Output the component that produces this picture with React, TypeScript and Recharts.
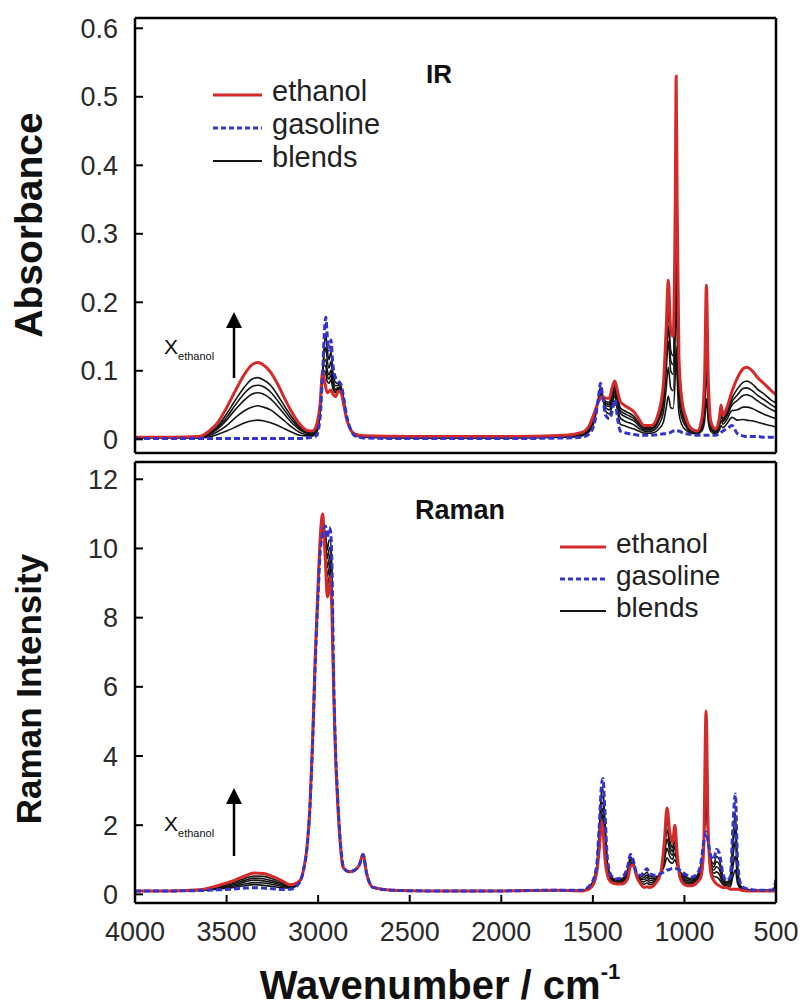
import React from 'react';
import { LineChart, Line, XAxis, YAxis } from 'recharts';

const RED = '#d42a2a';
const BLUE = '#3434c8';
const BLACK = '#151515';
const FONT = 'Arial, "Liberation Sans", sans-serif';

const X_TICKS = [4000, 3500, 3000, 2500, 2000, 1500, 1000, 500];
const IR_TICKS = [0, 0.1, 0.2, 0.3, 0.4, 0.5, 0.6];
const RAMAN_TICKS = [0, 2, 4, 6, 8, 10, 12];

// IR absorbance, wavenumber grid (cm-1)
const IR_WN = [
  4000, 3800, 3650, 3600, 3550, 3500, 3450, 3400, 3360, 3330,
  3300, 3260, 3220, 3180, 3140, 3100, 3060, 3030, 3010, 2990,
  2975, 2965, 2958, 2950, 2940, 2930, 2920, 2905, 2890, 2875,
  2860, 2845, 2830, 2800, 2750, 2500, 2000, 1650, 1560, 1520,
  1490, 1470, 1458, 1445, 1430, 1410, 1395, 1380, 1365, 1350,
  1330, 1300, 1275, 1250, 1220, 1180, 1140, 1115, 1100, 1088,
  1075, 1062, 1050, 1045, 1040, 1030, 1015, 990, 960, 930,
  905, 890, 880, 870, 855, 830, 810, 800, 790, 770,
  740, 710, 680, 660, 630, 600, 560, 530, 500,
];
const IR_ETHANOL = [
  0.003, 0.003, 0.004, 0.011, 0.024, 0.046, 0.072, 0.096, 0.109, 0.112,
  0.109, 0.098, 0.080, 0.058, 0.038, 0.022, 0.013, 0.012, 0.020, 0.050,
  0.100, 0.085, 0.075, 0.068, 0.070, 0.072, 0.066, 0.062, 0.070, 0.068,
  0.050, 0.030, 0.018, 0.008, 0.005, 0.004, 0.004, 0.006, 0.010, 0.020,
  0.040, 0.055, 0.060, 0.062, 0.060, 0.060, 0.075, 0.085, 0.070, 0.055,
  0.050, 0.045, 0.040, 0.030, 0.020, 0.020, 0.040, 0.080, 0.160, 0.232,
  0.160, 0.150, 0.350, 0.530, 0.350, 0.120, 0.060, 0.030, 0.015, 0.012,
  0.030, 0.090, 0.225, 0.090, 0.025, 0.015, 0.030, 0.050, 0.035, 0.045,
  0.070, 0.090, 0.103, 0.105, 0.100, 0.090, 0.080, 0.072, 0.065,
];
const IR_GASOLINE = [
  0.001, 0.001, 0.001, 0.001, 0.001, 0.001, 0.001, 0.001, 0.001, 0.001,
  0.001, 0.001, 0.001, 0.001, 0.001, 0.001, 0.002, 0.003, 0.005, 0.030,
  0.100, 0.160, 0.178, 0.150, 0.130, 0.145, 0.110, 0.090, 0.085, 0.080,
  0.060, 0.035, 0.020, 0.005, 0.002, 0.001, 0.001, 0.002, 0.003, 0.008,
  0.025, 0.060, 0.082, 0.060, 0.035, 0.030, 0.040, 0.058, 0.030, 0.012,
  0.010, 0.008, 0.007, 0.006, 0.006, 0.006, 0.007, 0.008, 0.008, 0.009,
  0.010, 0.012, 0.012, 0.011, 0.012, 0.012, 0.010, 0.008, 0.007, 0.006,
  0.006, 0.006, 0.006, 0.006, 0.006, 0.006, 0.008, 0.010, 0.012, 0.015,
  0.020, 0.008, 0.005, 0.004, 0.004, 0.004, 0.003, 0.003, 0.003,
];
const IR_BLEND_1 = [
  0.003, 0.003, 0.003, 0.009, 0.019, 0.037, 0.058, 0.077, 0.088, 0.090,
  0.087, 0.079, 0.064, 0.047, 0.031, 0.018, 0.011, 0.010, 0.017, 0.046,
  0.100, 0.100, 0.096, 0.084, 0.082, 0.087, 0.075, 0.068, 0.073, 0.070,
  0.052, 0.031, 0.018, 0.007, 0.004, 0.003, 0.003, 0.005, 0.009, 0.018,
  0.037, 0.056, 0.064, 0.062, 0.055, 0.054, 0.068, 0.080, 0.062, 0.046,
  0.042, 0.038, 0.033, 0.025, 0.017, 0.017, 0.033, 0.066, 0.130, 0.187,
  0.130, 0.122, 0.282, 0.426, 0.282, 0.098, 0.050, 0.026, 0.013, 0.011,
  0.025, 0.073, 0.181, 0.073, 0.021, 0.013, 0.026, 0.042, 0.030, 0.039,
  0.060, 0.074, 0.083, 0.085, 0.081, 0.073, 0.065, 0.058, 0.053,
];
const IR_BLEND_2 = [
  0.002, 0.002, 0.003, 0.008, 0.017, 0.032, 0.051, 0.068, 0.077, 0.079,
  0.077, 0.069, 0.056, 0.041, 0.027, 0.016, 0.010, 0.009, 0.016, 0.044,
  0.100, 0.108, 0.106, 0.093, 0.088, 0.094, 0.079, 0.070, 0.075, 0.072,
  0.053, 0.032, 0.019, 0.007, 0.004, 0.003, 0.003, 0.005, 0.008, 0.016,
  0.036, 0.057, 0.067, 0.061, 0.053, 0.051, 0.065, 0.077, 0.058, 0.042,
  0.038, 0.034, 0.030, 0.023, 0.016, 0.016, 0.030, 0.058, 0.114, 0.165,
  0.115, 0.109, 0.249, 0.374, 0.249, 0.088, 0.045, 0.023, 0.013, 0.010,
  0.023, 0.065, 0.159, 0.065, 0.019, 0.012, 0.023, 0.038, 0.028, 0.036,
  0.055, 0.065, 0.074, 0.075, 0.071, 0.064, 0.057, 0.051, 0.046,
];
const IR_BLEND_3 = [
  0.002, 0.002, 0.003, 0.007, 0.015, 0.028, 0.044, 0.058, 0.066, 0.068,
  0.066, 0.059, 0.048, 0.035, 0.023, 0.014, 0.009, 0.008, 0.014, 0.042,
  0.100, 0.115, 0.116, 0.101, 0.094, 0.101, 0.084, 0.073, 0.076, 0.073,
  0.054, 0.032, 0.019, 0.007, 0.004, 0.003, 0.003, 0.004, 0.007, 0.015,
  0.034, 0.057, 0.069, 0.061, 0.050, 0.048, 0.061, 0.074, 0.054, 0.038,
  0.034, 0.030, 0.027, 0.020, 0.014, 0.014, 0.027, 0.051, 0.099, 0.143,
  0.100, 0.095, 0.215, 0.322, 0.215, 0.077, 0.040, 0.021, 0.012, 0.010,
  0.020, 0.056, 0.137, 0.056, 0.017, 0.011, 0.021, 0.034, 0.026, 0.033,
  0.050, 0.057, 0.064, 0.065, 0.062, 0.056, 0.049, 0.044, 0.040,
];
const IR_BLEND_4 = [
  0.002, 0.002, 0.002, 0.005, 0.011, 0.020, 0.032, 0.042, 0.047, 0.049,
  0.047, 0.043, 0.035, 0.026, 0.017, 0.010, 0.007, 0.007, 0.012, 0.039,
  0.100, 0.128, 0.134, 0.115, 0.104, 0.114, 0.091, 0.078, 0.079, 0.075,
  0.056, 0.033, 0.019, 0.006, 0.003, 0.002, 0.002, 0.004, 0.006, 0.013,
  0.032, 0.058, 0.073, 0.061, 0.046, 0.043, 0.055, 0.070, 0.047, 0.031,
  0.027, 0.024, 0.021, 0.016, 0.012, 0.012, 0.021, 0.039, 0.073, 0.105,
  0.075, 0.071, 0.157, 0.234, 0.157, 0.058, 0.032, 0.018, 0.010, 0.009,
  0.016, 0.042, 0.100, 0.042, 0.014, 0.010, 0.018, 0.027, 0.022, 0.028,
  0.042, 0.043, 0.047, 0.047, 0.045, 0.041, 0.036, 0.033, 0.030,
];
const IR_BLEND_5 = [
  0.002, 0.002, 0.002, 0.003, 0.007, 0.012, 0.018, 0.024, 0.027, 0.028,
  0.027, 0.024, 0.020, 0.015, 0.010, 0.006, 0.005, 0.005, 0.009, 0.035,
  0.100, 0.142, 0.153, 0.130, 0.116, 0.128, 0.099, 0.083, 0.081, 0.077,
  0.058, 0.034, 0.020, 0.006, 0.003, 0.002, 0.002, 0.003, 0.005, 0.011,
  0.029, 0.059, 0.077, 0.061, 0.041, 0.037, 0.048, 0.065, 0.040, 0.022,
  0.020, 0.017, 0.015, 0.012, 0.009, 0.009, 0.015, 0.025, 0.045, 0.063,
  0.046, 0.045, 0.093, 0.136, 0.093, 0.038, 0.022, 0.013, 0.009, 0.008,
  0.012, 0.026, 0.059, 0.026, 0.011, 0.008, 0.013, 0.020, 0.017, 0.022,
  0.032, 0.028, 0.029, 0.028, 0.027, 0.025, 0.022, 0.020, 0.018,
];

// Raman intensity, wavenumber grid (cm-1)
const RAMAN_WN = [
  4000, 3800, 3650, 3550, 3450, 3400, 3350, 3300, 3250, 3200,
  3150, 3100, 3080, 3060, 3045, 3030, 3015, 3000, 2990, 2980,
  2975, 2968, 2960, 2950, 2940, 2932, 2925, 2915, 2905, 2895,
  2885, 2875, 2865, 2850, 2830, 2800, 2775, 2755, 2735, 2700,
  2600, 2400, 2000, 1700, 1560, 1510, 1480, 1465, 1452, 1445,
  1435, 1420, 1400, 1370, 1340, 1310, 1295, 1280, 1260, 1240,
  1220, 1205, 1190, 1160, 1130, 1110, 1095, 1080, 1065, 1052,
  1040, 1025, 1005, 985, 960, 930, 910, 895, 882, 870,
  855, 840, 825, 810, 790, 770, 750, 735, 722, 710,
  690, 650, 600, 550, 520, 505, 500,
];
const RAMAN_ETHANOL = [
  0.10, 0.10, 0.13, 0.25, 0.42, 0.53, 0.62, 0.60, 0.52, 0.40,
  0.28, 0.40, 0.70, 1.40, 2.50, 4.50, 7.00, 9.00, 10.2, 10.9,
  11.0, 10.4, 9.60, 8.60, 8.80, 9.20, 8.20, 5.80, 4.00, 2.80,
  1.90, 1.20, 0.80, 0.70, 0.65, 0.70, 0.85, 1.15, 0.60, 0.20,
  0.12, 0.10, 0.10, 0.12, 0.10, 0.20, 0.60, 1.30, 2.10, 1.90,
  1.10, 0.55, 0.35, 0.30, 0.30, 0.45, 0.80, 0.85, 0.50, 0.30,
  0.20, 0.22, 0.20, 0.30, 0.60, 1.50, 2.50, 1.80, 1.50, 2.00,
  1.20, 0.50, 0.30, 0.25, 0.25, 0.35, 0.50, 1.30, 5.30, 1.80,
  0.60, 0.40, 0.30, 0.25, 0.20, 0.20, 0.15, 0.15, 0.15, 0.15,
  0.12, 0.10, 0.10, 0.10, 0.10, 0.10, 0.10,
];
const RAMAN_GASOLINE = [
  0.10, 0.10, 0.11, 0.13, 0.16, 0.18, 0.19, 0.18, 0.16, 0.14,
  0.15, 0.35, 0.70, 1.40, 2.50, 4.40, 6.80, 8.70, 9.80, 10.3,
  10.4, 10.6, 10.65, 10.3, 10.6, 10.5, 9.60, 6.20, 4.20, 3.00,
  2.00, 1.30, 0.85, 0.70, 0.65, 0.70, 0.85, 1.15, 0.60, 0.20,
  0.12, 0.10, 0.10, 0.12, 0.12, 0.30, 0.80, 2.00, 3.20, 3.35,
  2.50, 1.00, 0.55, 0.45, 0.50, 0.80, 1.15, 1.00, 0.60, 0.55,
  0.65, 0.75, 0.60, 0.55, 0.60, 0.65, 0.70, 0.72, 0.75, 0.75,
  0.74, 0.70, 0.62, 0.55, 0.50, 0.60, 0.90, 1.50, 1.80, 1.50,
  1.10, 1.00, 1.30, 1.20, 0.60, 0.40, 0.50, 2.00, 2.90, 1.00,
  0.25, 0.15, 0.12, 0.12, 0.13, 0.30, 0.50,
];
const RAMAN_BLEND_1 = [
  0.10, 0.10, 0.13, 0.23, 0.37, 0.46, 0.53, 0.52, 0.45, 0.35,
  0.25, 0.39, 0.70, 1.40, 2.50, 4.48, 6.96, 8.94, 10.1, 10.8,
  10.9, 10.4, 9.81, 8.94, 9.16, 9.46, 8.48, 5.88, 4.04, 2.84,
  1.92, 1.22, 0.81, 0.70, 0.65, 0.70, 0.85, 1.15, 0.60, 0.20,
  0.12, 0.10, 0.10, 0.12, 0.10, 0.22, 0.64, 1.44, 2.32, 2.19,
  1.38, 0.64, 0.39, 0.33, 0.34, 0.52, 0.87, 0.88, 0.52, 0.35,
  0.29, 0.33, 0.28, 0.35, 0.60, 1.33, 2.14, 1.58, 1.35, 1.75,
  1.11, 0.54, 0.36, 0.31, 0.30, 0.40, 0.58, 1.34, 4.60, 1.74,
  0.70, 0.52, 0.50, 0.44, 0.28, 0.24, 0.22, 0.52, 0.70, 0.32,
  0.15, 0.11, 0.10, 0.10, 0.11, 0.14, 0.18,
];
const RAMAN_BLEND_2 = [
  0.10, 0.10, 0.12, 0.21, 0.33, 0.41, 0.47, 0.45, 0.39, 0.31,
  0.23, 0.38, 0.70, 1.40, 2.50, 4.47, 6.93, 8.90, 10.1, 10.7,
  10.8, 10.5, 9.97, 9.20, 9.43, 9.66, 8.69, 5.94, 4.07, 2.87,
  1.94, 1.24, 0.82, 0.70, 0.65, 0.70, 0.85, 1.15, 0.60, 0.20,
  0.12, 0.10, 0.10, 0.12, 0.11, 0.24, 0.67, 1.55, 2.49, 2.41,
  1.59, 0.71, 0.42, 0.35, 0.37, 0.57, 0.92, 0.90, 0.54, 0.39,
  0.36, 0.41, 0.34, 0.39, 0.60, 1.20, 1.87, 1.42, 1.24, 1.56,
  1.04, 0.57, 0.41, 0.36, 0.34, 0.44, 0.64, 1.37, 4.08, 1.70,
  0.78, 0.61, 0.65, 0.58, 0.34, 0.27, 0.27, 0.80, 1.11, 0.45,
  0.17, 0.12, 0.11, 0.11, 0.11, 0.17, 0.24,
];
const RAMAN_BLEND_3 = [
  0.10, 0.10, 0.12, 0.19, 0.29, 0.36, 0.41, 0.39, 0.34, 0.27,
  0.22, 0.38, 0.70, 1.40, 2.50, 4.45, 6.90, 8.85, 10.0, 10.6,
  10.7, 10.5, 10.13, 9.45, 9.70, 9.85, 8.90, 6.00, 4.10, 2.90,
  1.95, 1.25, 0.83, 0.70, 0.65, 0.70, 0.85, 1.15, 0.60, 0.20,
  0.12, 0.10, 0.10, 0.12, 0.11, 0.25, 0.70, 1.65, 2.65, 2.63,
  1.80, 0.78, 0.45, 0.38, 0.40, 0.63, 0.98, 0.93, 0.55, 0.43,
  0.43, 0.49, 0.40, 0.43, 0.60, 1.08, 1.60, 1.26, 1.13, 1.38,
  0.97, 0.60, 0.46, 0.40, 0.38, 0.48, 0.70, 1.40, 3.55, 1.65,
  0.85, 0.70, 0.80, 0.73, 0.40, 0.30, 0.33, 1.08, 1.53, 0.58,
  0.19, 0.13, 0.11, 0.11, 0.12, 0.20, 0.30,
];
const RAMAN_BLEND_4 = [
  0.10, 0.10, 0.12, 0.17, 0.25, 0.30, 0.34, 0.33, 0.29, 0.23,
  0.20, 0.37, 0.70, 1.40, 2.50, 4.44, 6.87, 8.80, 9.94, 10.5,
  10.6, 10.5, 10.28, 9.71, 9.97, 10.05, 9.11, 6.06, 4.13, 2.93,
  1.97, 1.27, 0.83, 0.70, 0.65, 0.70, 0.85, 1.15, 0.60, 0.20,
  0.12, 0.10, 0.10, 0.12, 0.11, 0.27, 0.73, 1.76, 2.82, 2.84,
  2.01, 0.84, 0.48, 0.40, 0.43, 0.68, 1.03, 0.95, 0.57, 0.46,
  0.49, 0.56, 0.46, 0.46, 0.60, 0.95, 1.33, 1.10, 1.01, 1.19,
  0.90, 0.63, 0.51, 0.45, 0.41, 0.51, 0.76, 1.43, 3.03, 1.61,
  0.93, 0.79, 0.95, 0.87, 0.46, 0.33, 0.38, 1.35, 1.94, 0.70,
  0.20, 0.13, 0.11, 0.11, 0.12, 0.23, 0.36,
];
const RAMAN_BLEND_5 = [
  0.10, 0.10, 0.11, 0.15, 0.21, 0.25, 0.28, 0.26, 0.23, 0.19,
  0.18, 0.36, 0.70, 1.40, 2.50, 4.42, 6.84, 8.76, 9.88, 10.4,
  10.5, 10.56, 10.44, 9.96, 10.24, 10.24, 9.32, 6.12, 4.16, 2.96,
  1.98, 1.28, 0.84, 0.70, 0.65, 0.70, 0.85, 1.15, 0.60, 0.20,
  0.12, 0.10, 0.10, 0.12, 0.12, 0.28, 0.76, 1.86, 2.98, 3.06,
  2.22, 0.91, 0.51, 0.42, 0.46, 0.73, 1.08, 0.97, 0.58, 0.50,
  0.56, 0.64, 0.52, 0.50, 0.60, 0.82, 1.06, 0.94, 0.90, 1.00,
  0.83, 0.66, 0.56, 0.49, 0.45, 0.55, 0.82, 1.46, 2.50, 1.56,
  1.00, 0.88, 1.10, 1.01, 0.52, 0.36, 0.43, 1.63, 2.35, 0.83,
  0.22, 0.14, 0.12, 0.12, 0.12, 0.26, 0.42,
];

const BLEND_KEYS = ['b5', 'b4', 'b3', 'b2', 'b1'];

function buildRows(wn: number[], eth: number[], gas: number[], blends: number[][]) {
  return wn.map((w, i) => {
    const row: Record<string, number> = { wn: w, ethanol: eth[i], gasoline: gas[i] };
    blends.forEach((b, k) => {
      row[`b${k + 1}`] = b[i];
    });
    return row;
  });
}

const irRows = buildRows(IR_WN, IR_ETHANOL, IR_GASOLINE, [IR_BLEND_1, IR_BLEND_2, IR_BLEND_3, IR_BLEND_4, IR_BLEND_5]);
const ramanRows = buildRows(RAMAN_WN, RAMAN_ETHANOL, RAMAN_GASOLINE, [
  RAMAN_BLEND_1, RAMAN_BLEND_2, RAMAN_BLEND_3, RAMAN_BLEND_4, RAMAN_BLEND_5,
]);

const frame = { stroke: '#000', strokeWidth: 2.5 };
const tickLine = { stroke: '#000', strokeWidth: 2 };
const tickText = { fill: '#2a2a2a', fontSize: 27, fontFamily: FONT };

interface PanelProps {
  data: Record<string, number>[];
  height: number;
  marginTop: number;
  xAxisHeight: number;
  yDomain: [number, number];
  yTicks: number[];
  showXLabels: boolean;
}

function Panel({ data, height, marginTop, xAxisHeight, yDomain, yTicks, showXLabels }: PanelProps) {
  return (
    <LineChart width={803} height={height} data={data} margin={{ top: marginTop, right: 26, bottom: 0, left: 0 }}>
      <XAxis
        dataKey="wn"
        type="number"
        domain={[500, 4000]}
        reversed
        allowDataOverflow
        ticks={X_TICKS}
        interval={0}
        height={xAxisHeight}
        tickSize={-8}
        tickMargin={27}
        tick={showXLabels ? tickText : false}
        axisLine={frame}
        tickLine={tickLine}
      />
      <XAxis
        xAxisId="top"
        orientation="top"
        dataKey="wn"
        type="number"
        domain={[500, 4000]}
        reversed
        allowDataOverflow
        ticks={X_TICKS}
        interval={0}
        height={1}
        tickSize={-8}
        tick={false}
        axisLine={frame}
        tickLine={tickLine}
      />
      <YAxis
        type="number"
        domain={yDomain}
        allowDataOverflow
        ticks={yTicks}
        interval={0}
        width={135}
        tickSize={-8}
        tickMargin={25}
        tick={tickText}
        axisLine={frame}
        tickLine={tickLine}
      />
      <YAxis
        yAxisId="right"
        orientation="right"
        type="number"
        domain={yDomain}
        allowDataOverflow
        ticks={yTicks}
        interval={0}
        width={1}
        tickSize={-8}
        tick={false}
        axisLine={frame}
        tickLine={tickLine}
      />
      {/* invisible series so the top and right frame axes get drawn */}
      <Line
        xAxisId="top"
        yAxisId="right"
        dataKey="ethanol"
        stroke="none"
        dot={false}
        activeDot={false}
        legendType="none"
        isAnimationActive={false}
      />
      {BLEND_KEYS.map((k) => (
        <Line key={k} type="monotone" dataKey={k} stroke={BLACK} strokeWidth={1.6} dot={false} isAnimationActive={false} />
      ))}
      <Line type="monotone" dataKey="ethanol" stroke={RED} strokeWidth={3} dot={false} isAnimationActive={false} />
      <Line
        type="monotone"
        dataKey="gasoline"
        stroke={BLUE}
        strokeWidth={3}
        strokeDasharray="6 3"
        dot={false}
        isAnimationActive={false}
      />
    </LineChart>
  );
}

function LegendBox({ left, top, fontSize, rowGap, lineLen }: { left: number; top: number; fontSize: number; rowGap: number; lineLen: number }) {
  const items = [
    { label: 'ethanol', color: RED, dash: undefined, w: 3 },
    { label: 'gasoline', color: BLUE, dash: '5 3', w: 3 },
    { label: 'blends', color: BLACK, dash: undefined, w: 2 },
  ];
  return (
    <div style={{ position: 'absolute', left, top }}>
      {items.map((it, i) => (
        <div key={it.label} style={{ position: 'absolute', top: i * rowGap, left: 0, height: 0, whiteSpace: 'nowrap' }}>
          <svg width={lineLen} height={6} style={{ position: 'absolute', left: 0, top: -3 }}>
            <line x1={0} x2={lineLen} y1={3} y2={3} stroke={it.color} strokeWidth={it.w} strokeDasharray={it.dash} />
          </svg>
          <span
            style={{
              position: 'absolute',
              left: lineLen + 10,
              top: -fontSize * 0.62,
              fontSize,
              lineHeight: 1,
              fontFamily: FONT,
              color: '#222',
            }}
          >
            {it.label}
          </span>
        </div>
      ))}
    </div>
  );
}

function XEthanol({ left, top, arrowTop, arrowBottom }: { left: number; top: number; arrowTop: number; arrowBottom: number }) {
  return (
    <>
      <div style={{ position: 'absolute', left, top, fontFamily: FONT, fontSize: 21, lineHeight: 1, color: '#111', whiteSpace: 'nowrap' }}>
        X<span style={{ fontSize: 11, position: 'relative', top: 6 }}>ethanol</span>
      </div>
      <svg width={20} height={arrowBottom - arrowTop} style={{ position: 'absolute', left: 224, top: arrowTop }}>
        <polygon points="10,0 2,16 18,16" fill="#000" />
        <line x1={10} x2={10} y1={14} y2={arrowBottom - arrowTop} stroke="#000" strokeWidth={2.5} />
      </svg>
    </>
  );
}

const labelStyle: React.CSSProperties = {
  position: 'absolute',
  fontFamily: FONT,
  fontWeight: 'bold',
  color: '#111',
  whiteSpace: 'nowrap',
  lineHeight: 1,
  transform: 'translate(-50%, -50%)',
};

export default function App() {
  return (
    <div style={{ position: 'absolute', left: 0, top: 0, width: 803, height: 1006, background: '#fff', overflow: 'hidden' }}>
      <div style={{ position: 'absolute', left: 0, top: 0 }}>
        <Panel data={irRows} height={460} marginTop={17} xAxisHeight={7} yDomain={[-0.02, 0.615]} yTicks={IR_TICKS} showXLabels={false} />
      </div>
      <div style={{ position: 'absolute', left: 0, top: 440 }}>
        <Panel data={ramanRows} height={566} marginTop={21} xAxisHeight={103} yDomain={[-0.25, 12.5]} yTicks={RAMAN_TICKS} showXLabels />
      </div>

      <div style={{ ...labelStyle, left: 439, top: 74, fontSize: 26 }}>IR</div>
      <div style={{ ...labelStyle, left: 460, top: 510, fontSize: 27 }}>Raman</div>

      <div style={{ ...labelStyle, left: 28, top: 225, fontSize: 39, transform: 'translate(-50%, -50%) rotate(-90deg)' }}>Absorbance</div>
      <div style={{ ...labelStyle, left: 28, top: 689, fontSize: 35, transform: 'translate(-50%, -50%) rotate(-90deg)' }}>Raman Intensity</div>
      <div style={{ ...labelStyle, left: 440, top: 985, fontSize: 40 }}>
        Wavenumber / cm<sup style={{ fontSize: 22, position: 'relative', top: -6 }}>-1</sup>
      </div>

      <LegendBox left={213} top={95} fontSize={29} rowGap={33} lineLen={49} />
      <LegendBox left={560} top={547} fontSize={28} rowGap={32} lineLen={46} />

      <XEthanol left={164} top={336} arrowTop={312} arrowBottom={378} />
      <XEthanol left={164} top={813} arrowTop={788} arrowBottom={856} />
    </div>
  );
}
